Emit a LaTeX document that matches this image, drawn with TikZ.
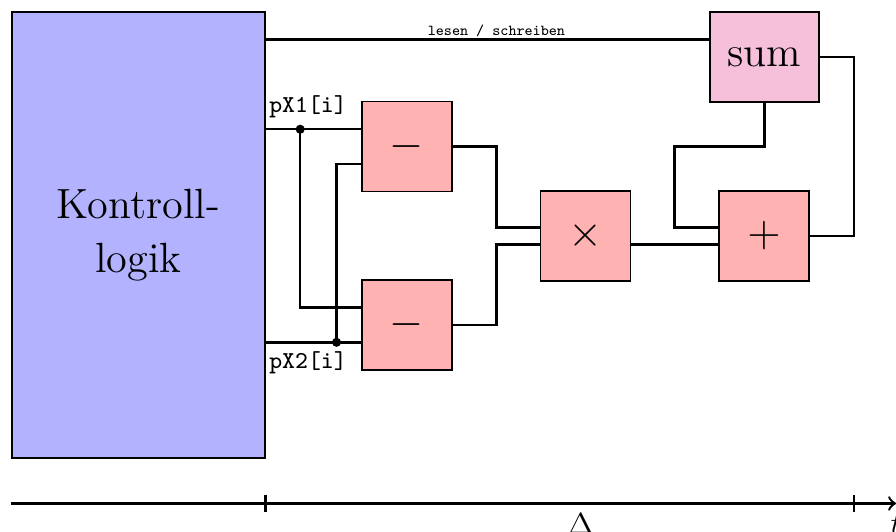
\documentclass[tikz,border=0pt]{standalone}
\usepackage{xcolor}
\usetikzlibrary{arrows}
\usetikzlibrary{calc, math}
\definecolor{mypink}{RGB}{246, 192, 218}

\begin{document}
\begin{tikzpicture}[
opbox/.style={draw, fill=red!30, minimum size=1.04cm, inner sep=0pt, font=\Large},
wire/.style={thick},
junc/.style={circle, fill, inner sep=0pt, minimum size=3pt},
bigtext/.style={font=\fontsize{13.9}{18}\selectfont}
]
\tikzmath{
\inoff=0.2;
\muloff=0.1;
\stub=0.51;
\ytime=-5.82;
}
\useasboundingbox (0,0) rectangle (10.358,-6.150);

\node[draw, fill=blue!30, minimum width=2.925cm, minimum height=5.156cm, align=center, bigtext] (ktl) at (1.601,-2.717) {Kontroll-\\logik};
\node[opbox] (sub1) at (4.705,-1.694) {$-$};
\node[opbox] (sub2) at (4.705,-3.757) {$-$};
\node[opbox] (mul) at (6.769,-2.728) {$\times$};
\node[opbox] (add) at (8.832,-2.728) {$+$};
\node[draw, fill=mypink, minimum width=1.26cm, minimum height=1.04cm, bigtext] (sum) at (8.838,-0.659) {sum};

\coordinate (s1a) at ($(sub1.west)+(0,\inoff)$);
\coordinate (s1b) at ($(sub1.west)-(0,\inoff)$);
\coordinate (s2a) at ($(sub2.west)+(0,\inoff)$);
\coordinate (s2b) at ($(sub2.west)-(0,\inoff)$);
\coordinate (m1) at ($(mul.west)+(0,\muloff)$);
\coordinate (m2) at ($(mul.west)-(0,\muloff)$);
\coordinate (mo) at ($(mul.east)-(0,\muloff)$);
\coordinate (a1) at ($(add.west)+(0,\muloff)$);
\coordinate (rw) at ($(sum.west)+(0,\inoff)$);
\coordinate (j1) at ($(ktl.east|-s1a)+(0.4,0)$);
\coordinate (j2) at ($(ktl.east|-s2b)+(0.82,0)$);

\draw[wire] (ktl.east|-rw) -- (rw) node[pos=0.52, above, inner sep=0.5pt, font=\tiny\ttfamily] (rwlab) {lesen / schreiben};
\draw[wire] (ktl.east|-s1a) -- (s1a);
\draw[wire] (ktl.east|-s2b) -- (s2b);
\draw[wire] (j1) |- (s2a);
\draw[wire] (j2) |- (s1b);
\node[junc] (jd1) at (j1) {};
\node[junc] (jd2) at (j2) {};
\node[anchor=west, inner sep=1pt, font=\footnotesize\ttfamily] (px1) at ($(ktl.east|-s1a)+(0,0.26)$) {pX1[i]};
\node[anchor=west, inner sep=1pt, font=\footnotesize\ttfamily] (px2) at ($(ktl.east|-s2b)+(0,-0.235)$) {pX2[i]};

\draw[wire] (sub1.east) -- ++(\stub,0) |- (m1);
\draw[wire] (sub2.east) -- ++(\stub,0) |- (m2);
\draw[wire] (mo) -- (mo-|add.west);
\draw[wire] (sum.south) -- ++(0,-\stub) -| ($(a1)+(-\stub,0)$) -- (a1);
\draw[wire] (add.east) -- ++(\stub,0) coordinate (fb) |- (sum.east);

\coordinate (tl) at (0,\ytime);
\coordinate (te) at (10.358,\ytime);
\coordinate (t1) at (ktl.east|-tl);
\coordinate (t2) at (fb|-tl);
\draw[thick, ->] (ktl.west|-tl) -- (te) node[below] (tlab) {$t$};
\draw[thick] ($(t1)+(0,\muloff)$) -- ($(t1)-(0,\muloff)$);
\draw[thick] ($(t2)+(0,\muloff)$) -- ($(t2)-(0,\muloff)$);
\path (t1) -- (te) node[midway, below] (dlt) {$\Delta$};
\end{tikzpicture}
\end{document}
